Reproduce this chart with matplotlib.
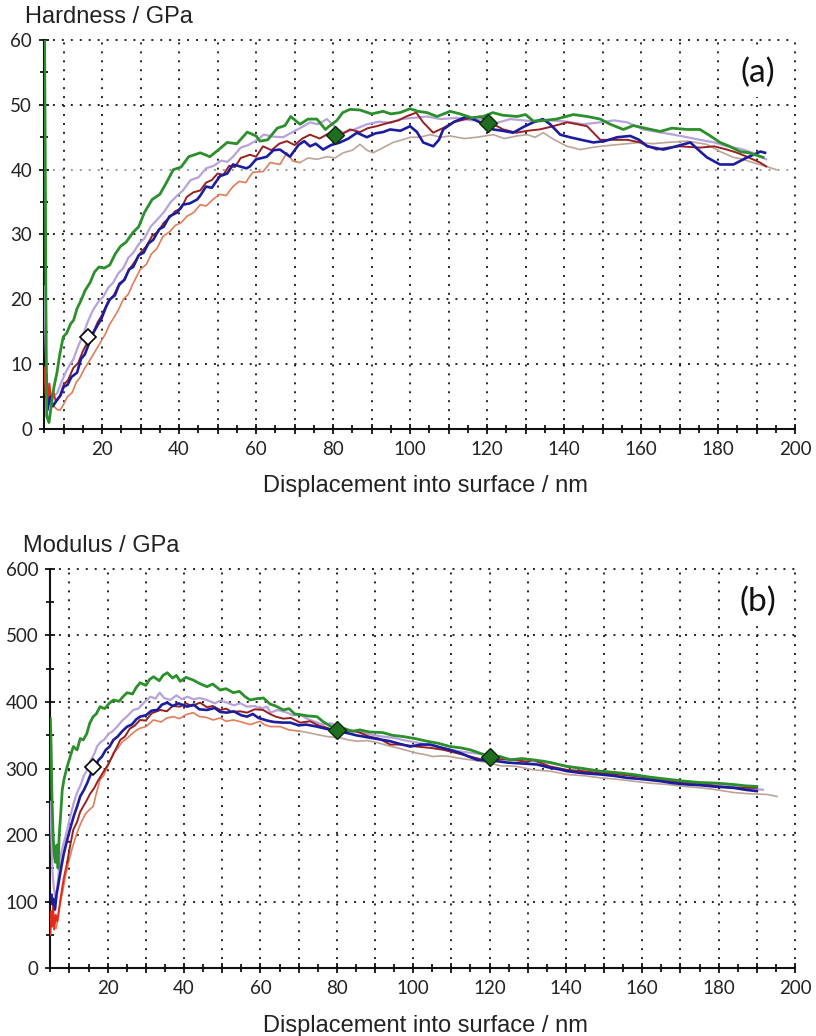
import numpy as np
import matplotlib
matplotlib.use("Agg")
import matplotlib.pyplot as plt
from matplotlib.ticker import MultipleLocator, FuncFormatter

plt.rcParams['font.family'] = ['Lato', 'DejaVu Sans']

# ---------------- hardness curves (x nm, H GPa) ----------------
hard_green = [(5.0, 66), (5.2, 45), (5.4, 20), (5.6, 2), (6.2, 1), (7.0, 4.5), (7.5, 6.5), (8.3, 8.8),
              (9.0, 11.5), (9.9, 14.2), (10.8, 14.8), (11.8, 16.2), (12.6, 16.8), (13.5, 18.6), (14.5, 19.8),
              (15.6, 21.4), (16.9, 22.6), (18.0, 24.2), (19.2, 25.0), (20.5, 24.8), (22.0, 25.3), (23.4, 27.0),
              (24.8, 28.2), (26.2, 28.8), (28.0, 30.3), (29.5, 31.2), (31.0, 33.4), (33.0, 35.4), (35.0, 36.2),
              (36.8, 38.1), (38.5, 40.0), (40.5, 40.4), (42.5, 42.0), (45.5, 42.6), (48.0, 42.0), (50.5, 43.2),
              (52.5, 44.2), (55.0, 44.0), (57.7, 45.8), (60.0, 45.2), (61.0, 44.4), (63.0, 44.6), (65.5, 46.4),
              (67.5, 46.8), (69.0, 48.2), (71.4, 47.0), (73.5, 47.8), (75.8, 47.8), (78.0, 46.2), (79.0, 46.7),
              (81.0, 47.6), (82.5, 48.8), (84.4, 49.3), (87.0, 49.2), (90.0, 48.6), (93.0, 49.0), (95.0, 48.6),
              (97.4, 48.8), (100.0, 49.4), (102.0, 49.0), (104.4, 48.8), (107.0, 48.2), (110.4, 49.0),
              (113.0, 48.6), (116.0, 48.0), (119.0, 48.2), (121.5, 48.8), (124.0, 48.4), (127.8, 48.2),
              (130.0, 48.5), (132.0, 47.5), (135.0, 47.6), (138.0, 47.8), (142.4, 48.5), (146.0, 48.2),
              (149.4, 47.8), (152.0, 47.0), (155.4, 46.2), (158.0, 46.8), (161.0, 46.4), (165.0, 45.9),
              (168.0, 46.4), (172.0, 46.2), (175.3, 46.2), (178.0, 45.2), (180.5, 44.2), (183.0, 43.6),
              (185.7, 42.8), (188.0, 42.6), (191.7, 41.9)]

hard_blue = [(5.8, 3), (6.5, 5), (7.2, 3.5), (8.3, 4.5), (9.2, 5.2), (10.0, 6.5), (11.0, 6.8), (12.0, 8.0),
             (13.5, 8.7), (14.5, 10.8), (15.5, 11.5), (16.6, 13.2), (17.7, 14.8), (18.8, 16.0), (19.8, 17.0),
             (21.0, 18.8), (22.0, 20.0), (23.3, 20.6), (24.5, 22.4), (25.8, 23.0), (27.0, 24.6), (28.1, 25.0),
             (29.5, 26.8), (30.8, 27.2), (32.0, 28.6), (33.3, 29.2), (34.8, 30.8), (36.0, 31.2), (37.5, 32.8),
             (39.5, 33.4), (41.0, 34.6), (42.8, 34.8), (44.7, 35.4), (45.5, 36.0), (47.0, 37.4), (48.5, 37.2),
             (50.6, 39.0), (52.5, 39.4), (54.0, 40.8), (55.8, 40.5), (57.5, 40.2), (58.4, 40.5), (60.0, 41.6),
             (61.5, 41.8), (62.8, 42.0), (64.5, 43.0), (66.2, 43.1), (68.8, 42.0), (71.0, 43.8), (72.5, 44.4),
             (74.0, 43.6), (75.5, 44.0), (77.4, 43.1), (79.5, 43.8), (81.8, 44.2), (84.0, 44.8), (86.2, 45.7),
             (88.8, 45.0), (91.0, 45.6), (93.0, 45.8), (94.8, 46.2), (97.5, 46.0), (100.0, 46.7), (101.8, 45.8),
             (103.4, 44.2), (106.0, 43.6), (107.5, 44.6), (108.6, 46.2), (111.5, 47.4), (114.8, 48.2),
             (118.2, 47.3), (121.6, 46.2), (124.0, 46.0), (126.8, 45.7), (129.5, 46.6), (132.0, 47.3),
             (134.5, 47.8), (136.4, 47.0), (139.0, 45.4), (141.5, 45.0), (144.5, 44.6), (147.6, 44.2),
             (150.5, 44.4), (153.8, 45.0), (157.2, 45.2), (159.5, 44.6), (161.6, 43.6), (165.8, 43.1),
             (168.5, 43.5), (172.8, 44.2), (175.0, 43.0), (177.1, 41.9), (180.5, 40.8), (184.0, 40.8),
             (187.6, 41.9), (190.0, 42.5), (191.0, 42.8), (192.2, 42.6)]

hard_red = [(5.0, 9.5), (5.3, 5.5), (5.6, 8.5), (5.9, 4.0), (6.3, 7.0), (6.8, 4.5), (7.3, 5.8), (8.0, 4.2),
            (9.0, 5.0), (10.0, 6.8), (11.2, 7.6), (12.5, 9.4), (13.8, 10.2), (15.0, 12.0), (16.2, 13.4),
            (17.5, 14.6), (18.8, 16.4), (20.0, 17.6), (21.5, 19.6), (23.0, 20.6), (24.2, 22.0), (25.5, 22.8),
            (27.0, 24.6), (28.5, 25.8), (30.0, 27.2), (31.5, 28.2), (33.0, 29.8), (34.5, 30.4), (36.0, 31.8),
            (37.5, 32.6), (39.0, 33.6), (40.5, 34.0), (42.0, 35.8), (43.7, 36.5), (45.5, 36.8), (47.0, 38.0),
            (48.5, 38.4), (50.0, 39.4), (51.5, 39.2), (53.0, 40.6), (54.5, 40.4), (56.0, 41.8), (58.4, 42.3),
            (60.0, 42.0), (61.8, 43.6), (64.0, 43.0), (66.0, 44.0), (68.0, 44.4), (70.0, 43.8), (72.0, 44.8),
            (74.0, 45.4), (76.5, 44.8), (79.2, 45.7), (81.5, 45.2), (84.4, 46.2), (87.0, 45.8), (89.0, 46.4),
            (91.3, 46.7), (94.8, 47.3), (97.0, 47.6), (99.0, 48.2), (101.6, 48.8), (103.4, 47.3), (106.0, 45.7),
            (108.5, 46.4), (111.2, 47.3), (114.5, 47.8), (118.2, 48.2), (121.0, 47.2), (124.2, 46.2),
            (127.6, 45.7), (130.5, 46.0), (133.6, 46.2), (136.5, 46.6), (140.8, 47.3), (143.5, 47.0),
            (146.0, 46.7), (149.4, 44.6), (153.8, 44.6), (156.5, 44.6), (159.7, 44.2), (164.0, 43.1),
            (167.0, 43.4), (170.0, 43.6), (175.3, 43.4), (179.0, 43.6), (182.3, 43.1), (185.0, 42.6),
            (187.5, 42.0), (190.9, 41.1), (192.5, 40.5)]

hard_lavender = [(5.0, 22), (5.2, 16), (5.4, 12), (5.6, 8), (6.0, 6), (6.8, 4.8), (7.5, 5.2), (8.3, 5.5),
                 (9.3, 7.0), (10.4, 8.6), (11.5, 9.8), (12.5, 10.7), (13.8, 12.8), (15.0, 14.4), (16.3, 16.6),
                 (17.7, 18.4), (19.0, 19.6), (20.3, 20.4), (21.6, 21.8), (22.9, 22.6), (24.2, 24.0), (25.5, 24.8),
                 (26.8, 26.4), (28.1, 27.2), (29.6, 28.6), (31.0, 29.4), (32.6, 31.2), (34.3, 32.3), (36.0, 33.4),
                 (37.8, 35.0), (39.5, 36.0), (41.0, 36.8), (43.0, 38.4), (45.0, 38.8), (47.0, 40.2), (49.0, 40.6),
                 (51.0, 41.4), (52.5, 41.2), (54.0, 42.0), (56.0, 43.4), (58.0, 43.8), (60.3, 44.6), (62.0, 45.4),
                 (64.4, 45.1), (67.0, 45.0), (69.5, 45.8), (72.0, 46.6), (74.0, 47.3), (76.0, 47.0), (78.4, 47.8),
                 (80.5, 46.6), (82.6, 45.7), (85.5, 46.2), (88.8, 47.0), (92.0, 47.4), (95.0, 47.2), (97.4, 47.8),
                 (101.0, 48.0), (104.4, 48.2), (108.0, 47.8), (112.2, 48.0), (116.0, 47.6), (119.0, 47.8),
                 (122.5, 47.2), (126.0, 47.8), (129.5, 47.6), (133.0, 47.4), (136.5, 47.6), (140.8, 47.4),
                 (145.0, 47.0), (149.4, 47.3), (153.0, 47.6), (156.4, 47.3), (160.6, 46.2), (164.5, 45.8),
                 (168.4, 45.4), (172.0, 45.0), (175.3, 44.6), (179.0, 44.2), (182.3, 43.6), (186.0, 43.2),
                 (189.0, 42.6), (192.5, 41.6)]

hard_tan = [(7.5, 3.5), (8.3, 3.0), (9.1, 2.9), (10.0, 3.8), (11.0, 5.0), (12.2, 5.6), (13.3, 7.2), (14.3, 8.0),
            (15.5, 9.4), (16.6, 10.4), (17.8, 11.6), (19.5, 13.3), (20.8, 14.6), (22.0, 16.2), (23.3, 17.4),
            (24.4, 18.6), (25.5, 20.0), (26.8, 20.8), (28.0, 22.4), (29.9, 24.6), (31.5, 25.4), (32.8, 27.0),
            (34.2, 27.8), (35.8, 29.7), (37.5, 30.4), (39.0, 31.4), (40.5, 31.8), (42.0, 32.8), (43.8, 33.4),
            (45.5, 34.6), (47.0, 34.4), (48.8, 35.4), (50.5, 36.2), (52.2, 36.0), (54.0, 37.4), (55.6, 38.2),
            (57.3, 38.0), (58.4, 39.0), (59.2, 39.6), (61.8, 39.7), (63.7, 41.1), (66.2, 40.8), (68.0, 42.6),
            (69.6, 41.3), (71.4, 41.1), (73.5, 41.8), (75.8, 41.6), (78.5, 42.0), (80.5, 41.8), (82.6, 42.6),
            (85.0, 43.0), (87.0, 43.9), (88.8, 43.0), (90.4, 42.6), (93.0, 43.4), (95.6, 44.2), (98.0, 44.6),
            (100.0, 45.0), (102.5, 45.0), (105.2, 45.4), (108.0, 45.0), (110.4, 45.2), (114.0, 44.8),
            (117.4, 45.0), (121.6, 45.4), (124.5, 44.8), (127.8, 45.2), (130.4, 45.4), (132.5, 45.0),
            (134.6, 45.7), (137.5, 44.6), (140.8, 43.6), (144.2, 43.1), (147.0, 43.4), (149.4, 43.6),
            (154.6, 43.9), (159.7, 44.2), (163.0, 44.0), (166.8, 44.2), (172.0, 44.4), (177.1, 43.9),
            (180.5, 42.8), (184.0, 41.9), (186.5, 41.6), (189.0, 41.1), (192.5, 40.5), (195.1, 40.0)]

# ---------------- modulus curves (x nm, E GPa) ----------------
mod_green = [(5.0, 375), (5.2, 330), (5.4, 260), (5.7, 200), (6.0, 170), (6.3, 159), (6.7, 185), (7.0, 150),
             (7.3, 200), (7.6, 223), (8.1, 268), (8.6, 285), (9.4, 303), (10.2, 318), (11.0, 333), (12.0, 328),
             (12.8, 345), (13.6, 343), (14.5, 352), (15.3, 368), (16.2, 378), (17.0, 382), (18.0, 393),
             (19.2, 390), (20.4, 398), (21.5, 403), (23.0, 401), (24.0, 408), (25.1, 414), (26.5, 412),
             (27.5, 422), (28.5, 429), (30.0, 425), (31.0, 434), (32.0, 438), (33.5, 432), (34.5, 440),
             (35.6, 444), (37.0, 436), (38.0, 440), (39.0, 431), (40.5, 437), (42.4, 433), (44.0, 428),
             (46.0, 423), (47.5, 427), (49.5, 418), (51.0, 420), (52.9, 414), (54.5, 416), (56.0, 408),
             (57.3, 403), (59.0, 405), (60.8, 406), (62.5, 397), (64.0, 394), (66.0, 388), (67.5, 390),
             (69.0, 382), (70.4, 381), (72.5, 379), (74.8, 378), (76.5, 370), (78.0, 365), (80.0, 358),
             (82.0, 360), (84.0, 356), (86.0, 358), (88.5, 355), (92.0, 354), (94.5, 350), (97.4, 348),
             (100.5, 345), (103.6, 341), (106.5, 338), (109.7, 333), (112.5, 331), (115.0, 328), (117.5, 323),
             (120.0, 318), (122.8, 318), (125.4, 313), (128.5, 315), (131.4, 313), (134.0, 311), (136.0, 309),
             (140.3, 303), (144.5, 300), (149.0, 296), (153.0, 294), (157.6, 291), (162.0, 287), (166.5, 284),
             (171.0, 281), (175.0, 279), (179.5, 278), (183.8, 276), (187.0, 274), (190.0, 273)]

mod_blue = [(5.3, 110), (5.5, 96), (5.8, 104), (6.2, 88), (6.6, 110), (7.2, 130), (7.8, 150), (8.5, 172),
            (9.4, 193), (10.3, 212), (11.2, 230), (12.0, 243), (12.8, 258), (13.8, 268), (14.7, 279),
            (15.6, 292), (16.7, 300), (17.5, 312), (18.5, 318), (19.5, 328), (20.5, 333), (21.5, 343),
            (22.6, 348), (23.8, 356), (25.1, 363), (26.3, 366), (27.5, 374), (28.5, 378), (30.0, 380),
            (31.5, 387), (33.0, 388), (34.2, 396), (35.6, 399), (37.0, 394), (38.5, 398), (40.8, 393),
            (42.5, 396), (44.0, 389), (46.0, 388), (48.0, 391), (49.5, 385), (51.3, 384), (53.0, 386),
            (55.0, 380), (56.5, 378), (58.0, 382), (59.5, 376), (61.8, 372), (63.5, 370), (66.0, 369),
            (67.8, 369), (70.0, 365), (72.0, 366), (74.8, 363), (77.0, 360), (80.0, 356), (83.0, 353),
            (85.0, 350), (87.0, 348), (90.0, 345), (92.0, 343), (94.0, 341), (96.5, 337), (99.2, 333),
            (102.0, 336), (104.5, 336), (107.0, 332), (109.7, 328), (112.5, 323), (114.5, 318), (116.8, 313),
            (119.5, 312), (122.0, 311), (124.5, 309), (127.2, 308), (130.0, 307), (132.5, 306), (135.9, 301),
            (138.0, 299), (140.3, 296), (144.5, 293), (149.0, 291), (152.5, 289), (156.0, 286), (160.0, 284),
            (164.7, 281), (168.0, 278), (171.7, 276), (175.0, 275), (178.5, 273), (181.0, 272), (183.8, 271),
            (187.0, 268), (190.0, 266)]

mod_red = [(5.0, 50), (5.2, 85), (5.4, 62), (5.7, 95), (6.0, 58), (6.4, 80), (6.8, 70), (7.3, 90), (7.8, 110),
           (8.5, 135), (9.4, 159), (10.2, 185), (11.0, 208), (12.0, 220), (12.8, 235), (13.6, 243), (14.5, 252),
           (15.4, 262), (16.4, 270), (17.5, 282), (18.8, 294), (20.0, 305), (21.2, 318), (22.2, 330),
           (23.3, 343), (24.5, 348), (25.8, 360), (27.0, 364), (28.5, 373), (30.0, 372), (31.5, 383),
           (33.8, 388), (35.5, 386), (37.0, 394), (39.0, 393), (40.5, 398), (42.0, 394), (44.2, 399),
           (46.0, 392), (47.5, 394), (49.5, 388), (51.0, 390), (52.5, 385), (54.7, 386), (56.5, 384),
           (58.5, 389), (60.7, 388), (62.5, 382), (64.0, 378), (66.0, 375), (68.0, 376), (70.4, 369),
           (73.0, 371), (75.5, 364), (77.0, 362), (79.0, 358), (81.5, 356), (84.0, 357), (86.0, 354),
           (88.5, 348), (91.0, 345), (94.0, 336), (97.0, 336), (101.0, 333), (104.5, 331), (108.0, 328),
           (111.5, 323), (115.0, 318), (118.3, 313), (122.0, 314), (126.2, 313), (129.8, 310), (131.4, 313),
           (134.0, 307), (135.9, 303), (140.3, 298), (144.5, 296), (149.0, 293), (154.0, 291), (159.4, 288),
           (163.0, 284), (166.5, 281), (171.0, 279), (174.0, 278), (177.0, 276), (180.0, 273), (183.8, 271),
           (187.0, 271), (190.0, 271)]

mod_lavender = [(5.0, 250), (5.2, 210), (5.4, 170), (5.6, 140), (5.9, 120), (6.3, 105), (6.8, 120), (7.3, 150),
                (7.9, 175), (8.6, 190), (9.4, 208), (10.2, 228), (11.1, 248), (12.0, 264), (12.9, 275),
                (13.8, 290), (14.7, 298), (15.5, 312), (16.5, 322), (17.2, 333), (18.0, 339), (19.2, 344),
                (20.2, 352), (21.3, 356), (22.5, 363), (23.8, 372), (25.0, 378), (26.7, 388), (28.0, 390),
                (29.5, 399), (31.2, 408), (32.5, 405), (33.6, 414), (34.8, 406), (36.4, 403), (38.0, 410),
                (39.5, 404), (40.8, 408), (42.5, 404), (44.0, 406), (46.0, 403), (48.0, 398), (49.5, 402),
                (51.3, 399), (53.0, 395), (54.8, 398), (56.5, 393), (58.5, 394), (60.0, 390), (61.8, 393),
                (62.6, 384), (64.5, 388), (67.0, 384), (68.5, 380), (70.4, 381), (72.5, 374), (74.5, 370),
                (76.4, 366), (78.5, 368), (80.5, 362), (83.5, 356), (86.0, 355), (89.0, 351), (92.0, 348),
                (95.0, 346), (98.0, 342), (101.0, 339), (104.5, 335), (107.0, 331), (109.7, 328), (113.0, 325),
                (116.0, 323), (118.3, 321), (121.5, 318), (124.5, 315), (127.2, 313), (131.0, 311), (133.5, 310),
                (135.9, 308), (140.0, 304), (145.0, 299), (150.0, 295), (155.0, 291), (160.0, 287), (165.0, 283),
                (170.0, 280), (175.0, 277), (180.0, 275), (185.0, 272), (188.5, 270), (191.6, 268)]

mod_tan = [(6.5, 60), (7.0, 75), (7.5, 95), (8.2, 115), (9.0, 140), (9.8, 160), (10.6, 178), (11.5, 195),
           (12.4, 210), (13.3, 222), (14.2, 232), (15.2, 238), (16.2, 243), (17.0, 262), (18.0, 283), (19.0, 290),
           (20.2, 306), (21.5, 324), (22.6, 330), (23.8, 340), (25.2, 346), (26.7, 354), (28.2, 360), (30.0, 363),
           (32.0, 373), (34.0, 370), (35.5, 376), (37.2, 378), (38.8, 375), (40.5, 381), (42.4, 384), (44.0, 378),
           (45.8, 377), (47.6, 373), (49.5, 376), (51.0, 371), (52.9, 373), (55.0, 370), (57.3, 366), (59.9, 371),
           (61.0, 366), (62.6, 363), (65.2, 363), (67.5, 358), (70.4, 356), (72.5, 354), (74.8, 351), (77.5, 348),
           (81.0, 346), (83.0, 343), (85.3, 341), (88.0, 342), (90.6, 339), (93.0, 335), (95.8, 331), (98.5, 327),
           (101.0, 323), (103.0, 321), (105.2, 318), (107.5, 319), (109.7, 318), (112.5, 315), (115.0, 313),
           (117.5, 311), (120.2, 308), (122.8, 304), (125.0, 304), (127.2, 303), (131.4, 298), (135.9, 296),
           (140.3, 291), (145.0, 289), (149.0, 286), (153.0, 284), (157.6, 281), (162.0, 278), (166.5, 276),
           (171.0, 273), (175.3, 271), (179.5, 268), (183.8, 264), (188.0, 262), (192.7, 261), (195.3, 258)]

# marker points
hard_open_marker = [(16.4, 14.2)]
hard_green_markers = [(80.5, 45.3), (120.3, 47.2)]
mod_open_marker = [(16.2, 303)]
mod_green_markers = [(80.0, 358), (120.0, 318)]

# style per series: (early colour, late colour, switch depth nm, linewidth), drawn back to front
styles = {
    'tan': ('#e07d58', '#bda497', 70, 1.2),
    'lavender': ('#b8a2dc', '#b8a2dc', 0, 1.6),
    'red': ('#e02a1c', '#982020', 9, 1.4),
    'blue': ('#1c1ca0', '#1c1ca0', 0, 1.9),
    'green': ('#2b8f2b', '#2b8f2b', 0, 2.0),
}

fig = plt.figure(figsize=(8.16, 10.36), dpi=100)
ax1 = fig.add_axes([0.0539, 0.5859, 0.9204, 0.3755])
ax2 = fig.add_axes([0.0613, 0.0656, 0.9130, 0.3852])


def draw_panel(ax, curves, open_pt, green_pts, ylim, ystep, yminor):
    for name, data in curves:
        c0, c1, split, lw = styles[name]
        arr = np.array(data)
        k = np.searchsorted(arr[:, 0], split)
        if k > 0:
            ax.plot(arr[:k + 1, 0], arr[:k + 1, 1], color=c0, lw=lw, zorder=3)
        ax.plot(arr[k:, 0], arr[k:, 1], color=c1, lw=lw, zorder=3)
    op = np.array(open_pt)
    ax.plot(op[:, 0], op[:, 1], 'D', ms=8, mfc='white', mec='black', mew=1.2, zorder=5)
    gp = np.array(green_pts)
    ax.plot(gp[:, 0], gp[:, 1], 'D', ms=9, mfc='#1f6e1f', mec='#0a2a0a', mew=1.0, zorder=5)

    ax.set_xlim(4.9, 200)
    ax.set_ylim(*ylim)
    ax.xaxis.set_major_locator(MultipleLocator(10))
    ax.xaxis.set_minor_locator(MultipleLocator(5))
    ax.xaxis.set_major_formatter(FuncFormatter(lambda v, p: f"{v:.0f}" if round(v) % 20 == 0 else ""))
    ax.yaxis.set_major_locator(MultipleLocator(ystep))
    ax.yaxis.set_minor_locator(MultipleLocator(yminor))
    ax.spines['top'].set_visible(False)
    ax.spines['right'].set_visible(False)
    for s in ('left', 'bottom'):
        ax.spines[s].set_linewidth(1.5)
        ax.spines[s].set_color('#111111')
    ax.tick_params(which='both', direction='inout', width=1.3, color='#111111')
    ax.tick_params(which='major', length=7, labelsize=13.5, labelcolor='#222222', pad=5)
    ax.tick_params(which='minor', length=6)
    ax.set_axisbelow(True)
    ax.grid(True, which='major', color='#222222', linestyle=(0, (1, 3.6)), linewidth=1.4)
    for gl in ax.get_xgridlines() + ax.get_ygridlines():
        gl.set_clip_on(False)


draw_panel(ax1, [('tan', hard_tan), ('lavender', hard_lavender), ('red', hard_red),
                 ('blue', hard_blue), ('green', hard_green)],
           hard_open_marker, hard_green_markers, (0, 60), 10, 5)
draw_panel(ax2, [('tan', mod_tan), ('lavender', mod_lavender), ('red', mod_red),
                 ('blue', mod_blue), ('green', mod_green)],
           mod_open_marker, mod_green_markers, (0, 600), 100, 50)

# the 40 GPa line is fainter in the scan
fig.canvas.draw()
for tick in ax1.yaxis.get_major_ticks():
    if abs(tick.get_loc() - 40) < 1e-6:
        tick.gridline.set_color('#9a9a9a')

lab_font = dict(family=['Liberation Sans', 'DejaVu Sans'], color='#222222')
fig.text(0.0306, 0.9778, 'Hardness / GPa', fontsize=17, ha='left', va='baseline', **lab_font)
fig.text(0.0282, 0.4672, 'Modulus / GPa', fontsize=17, ha='left', va='baseline', **lab_font)
fig.text(0.5208, 0.5251, 'Displacement into surface / nm', fontsize=17, ha='center', va='baseline', **lab_font)
fig.text(0.5208, 0.0039, 'Displacement into surface / nm', fontsize=17, ha='center', va='baseline', **lab_font)

box = dict(facecolor='white', edgecolor='none', pad=6)
fig.text(0.9289, 0.9295, '(a)', fontsize=24, ha='center', va='center', color='#111111', bbox=box, zorder=10)
fig.text(0.9289, 0.4189, '(b)', fontsize=24, ha='center', va='center', color='#111111', bbox=box, zorder=10)

fig.savefig('out.png', dpi=100)
